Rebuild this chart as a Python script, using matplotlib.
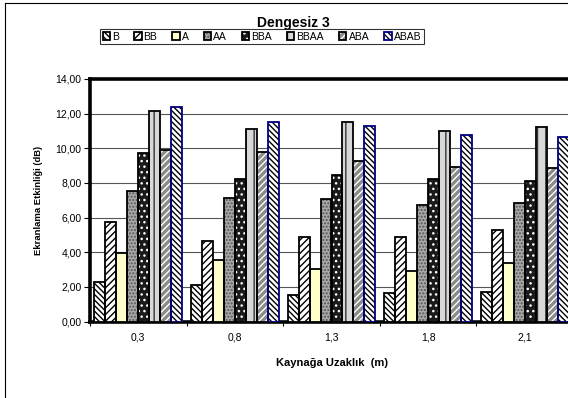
import numpy as np
import matplotlib.pyplot as plt
from matplotlib.patches import Patch
from matplotlib.lines import Line2D
from matplotlib.legend_handler import HandlerTuple

plt.rcParams['font.family'] = ['Liberation Sans', 'DejaVu Sans']
plt.rcParams['hatch.linewidth'] = 1.0

distances = ['0,3', '0,8', '1,3', '1,8', '2,1']
series = ['B', 'BB', 'A', 'AA', 'BBA', 'BBAA', 'ABA', 'ABAB']

B = [2.30, 2.11, 1.53, 1.63, 1.68]
BB = [5.76, 4.67, 4.86, 4.86, 5.28]
A = [3.94, 3.55, 3.01, 2.94, 3.40]
AA = [7.53, 7.11, 7.05, 6.73, 6.82]
BBA = [9.75, 8.21, 8.46, 8.21, 8.13]
BBAA = [12.15, 11.10, 11.54, 11.00, 11.25]
ABA = [9.90, 9.77, 9.27, 8.90, 8.88]
ABAB = [12.40, 11.50, 11.31, 10.77, 10.63]
values = [B, BB, A, AA, BBA, BBAA, ABA, ABAB]

# fill, hatch, hatch colour, outline colour for each series
styles = [
    ('white', '\\' * 6, 'black', 'black'),
    ('white', '/' * 5, 'black', 'black'),
    ('#ffffcc', '', 'black', 'black'),
    ('#a8a8a8', '.....', '#555555', 'black'),
    ('#1a1a1a', '...', 'white', 'black'),
    ('#d8d8d8', '||', '#333333', 'black'),
    ('#8a8a8a', '/' * 5, 'white', 'black'),
    ('white', '\\' * 6, 'black', '#000080'),
]

fig = plt.figure(figsize=(5.68, 3.98), dpi=100)
ax = fig.add_axes([90 / 568, 76.5 / 398, 483 / 568, 242.5 / 398])

x = np.arange(len(distances))
w = 1 / 8.8
handles = []
for i, (name, vals) in enumerate(zip(series, values)):
    fc, hatch, hc, ec = styles[i]
    pos = x + (i - 3.5) * w
    ax.bar(pos, vals, w, color=fc, hatch=hatch, edgecolor=hc, linewidth=0, zorder=3)
    ax.bar(pos, vals, w, fill=False, edgecolor=ec, linewidth=1.3, zorder=4)
    handles.append((Patch(facecolor=fc, hatch=hatch, edgecolor=hc, linewidth=0),
                    Patch(fill=False, edgecolor=ec, linewidth=1.3)))

ax.set_ylim(0, 14)
ax.set_xlim(-0.5, len(distances) - 0.5)
ax.set_yticks(np.arange(0, 14.1, 2))
ax.set_yticklabels([f'{v:.2f}'.replace('.', ',') for v in np.arange(0, 14.1, 2)], fontsize=7.5)
ax.yaxis.grid(True, color='#555555', linewidth=0.8, zorder=0)
ax.set_axisbelow(True)

ax.set_xticks(np.arange(-0.5, len(distances), 1))
ax.set_xticklabels([])
ax.set_xticks(x, minor=True)
ax.set_xticklabels(distances, minor=True, fontsize=7.5)
ax.tick_params(axis='x', which='minor', length=0, pad=8)
ax.tick_params(axis='x', which='major', length=3, width=0.8)
ax.tick_params(axis='y', length=4, width=0.8, pad=2)

for side in ['left', 'top', 'bottom', 'right']:
    ax.spines[side].set_linewidth(2.6)

ax.set_ylabel('Ekranlama Etkinliği (dB)', fontsize=6.8, fontweight='bold', labelpad=9)
ax.set_xlabel('Kaynağa Uzaklık  (m)', fontsize=8, fontweight='bold', labelpad=11)

fig.text(293 / 568, 1 - 23 / 398, 'Dengesiz 3', fontsize=10, fontweight='bold',
         ha='center', va='center')

leg = fig.legend(handles, series, handler_map={tuple: HandlerTuple(ndivide=1, pad=0)},
                 loc='center', bbox_to_anchor=(262 / 568, 1 - 36.5 / 398), ncol=8,
                 fontsize=7.5, frameon=True, fancybox=False, edgecolor='black',
                 handlelength=0.7, handleheight=0.7, handletextpad=0.2,
                 columnspacing=1.45, borderpad=0.25, borderaxespad=0)
leg.get_frame().set_linewidth(0.8)

# chart area border
fig.add_artist(Line2D([5 / 568, 5 / 568], [0, 1 - 2.5 / 398], transform=fig.transFigure,
                      color='black', linewidth=0.8))
fig.add_artist(Line2D([5 / 568, 1], [1 - 2.5 / 398, 1 - 2.5 / 398], transform=fig.transFigure,
                      color='black', linewidth=0.8))

fig.savefig('out.png', dpi=100)
